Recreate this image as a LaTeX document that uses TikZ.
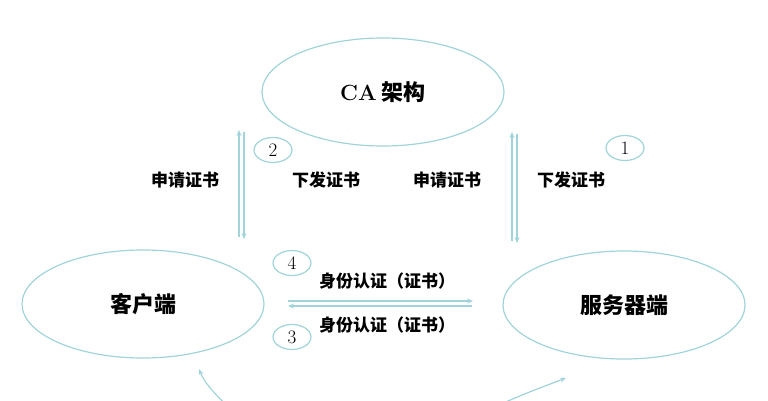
\documentclass[tikz,border=0pt]{standalone}
\usepackage{fontspec}
\newfontfamily\cjk{Noto Sans CJK SC}
\usepackage{tikz}
\usetikzlibrary{shapes.geometric, arrows.meta}
\definecolor{lineblue}{RGB}{160,212,218}

\begin{document}
\begin{tikzpicture}[x=1pt, y=-1pt,
  ent/.style={ellipse, draw=lineblue, line width=1.2pt, minimum width=242pt, minimum height=108pt, inner sep=0pt, font=\cjk\bfseries\fontsize{22}{26}\selectfont},
  num/.style={ellipse, draw=lineblue, line width=1.2pt, minimum width=38pt, minimum height=25pt, inner sep=0pt, font=\fontsize{19}{22}\selectfont},
  lbl/.style={font=\cjk\bfseries\fontsize{17}{20}\selectfont},
  flow/.style={draw=lineblue, line width=1.2pt, -{Stealth[length=6pt, width=5pt]}}]
\useasboundingbox (0,0) rectangle (768,400);
\clip (0,0) rectangle (768,400);
% the three parties
\node [ent] (ca) at (383,92) {{\rmfamily\bfseries CA} 架构};
\node [ent] (client) at (143,304) {客户端};
\node [ent] (server) at (624,305) {服务器端};
% step numbers
\node [num] (n1) at (625,148) {1};
\node [num] (n2) at (273,150) {2};
\node [num] (n3) at (292,337) {3};
\node [num] (n4) at (292,263) {4};
% labels
\node [lbl] (apply1) at (185,180) {申请证书};
\node [lbl] (issue1) at (326,180) {下发证书};
\node [lbl] (apply2) at (447,180) {申请证书};
\node [lbl] (issue2) at (571,180) {下发证书};
\node [lbl] (auth1) at (387,281) {身份认证（证书）};
\node [lbl] (auth2) at (387,325) {身份认证（证书）};
% arrow ends
\coordinate (lu0) at (239,237);
\coordinate (lu1) at (239,130);
\coordinate (ld0) at (244,132);
\coordinate (ld1) at (244,239);
\coordinate (ru0) at (512,241);
\coordinate (ru1) at (512,132);
\coordinate (rd0) at (517,134);
\coordinate (rd1) at (517,243);
\coordinate (hr0) at (288,301);
\coordinate (hr1) at (473,301);
\coordinate (hl0) at (472,306);
\coordinate (hl1) at (288,306);
\coordinate (bl0) at (234,412);
\coordinate (bl1) at (199,369);
\coordinate (br0) at (488,410);
\coordinate (br1) at (566,378);
\draw [flow] (lu0) -- (lu1);
\draw [flow] (ld0) -- (ld1);
\draw [flow] (ru0) -- (ru1);
\draw [flow] (rd0) -- (rd1);
\draw [flow] (hr0) -- (hr1);
\draw [flow] (hl0) -- (hl1);
\draw [flow] (bl0) .. controls (215,395) and (204,382) .. (bl1);
\draw [flow] (br0) .. controls (520,395) and (545,386) .. (br1);
\end{tikzpicture}
\end{document}
